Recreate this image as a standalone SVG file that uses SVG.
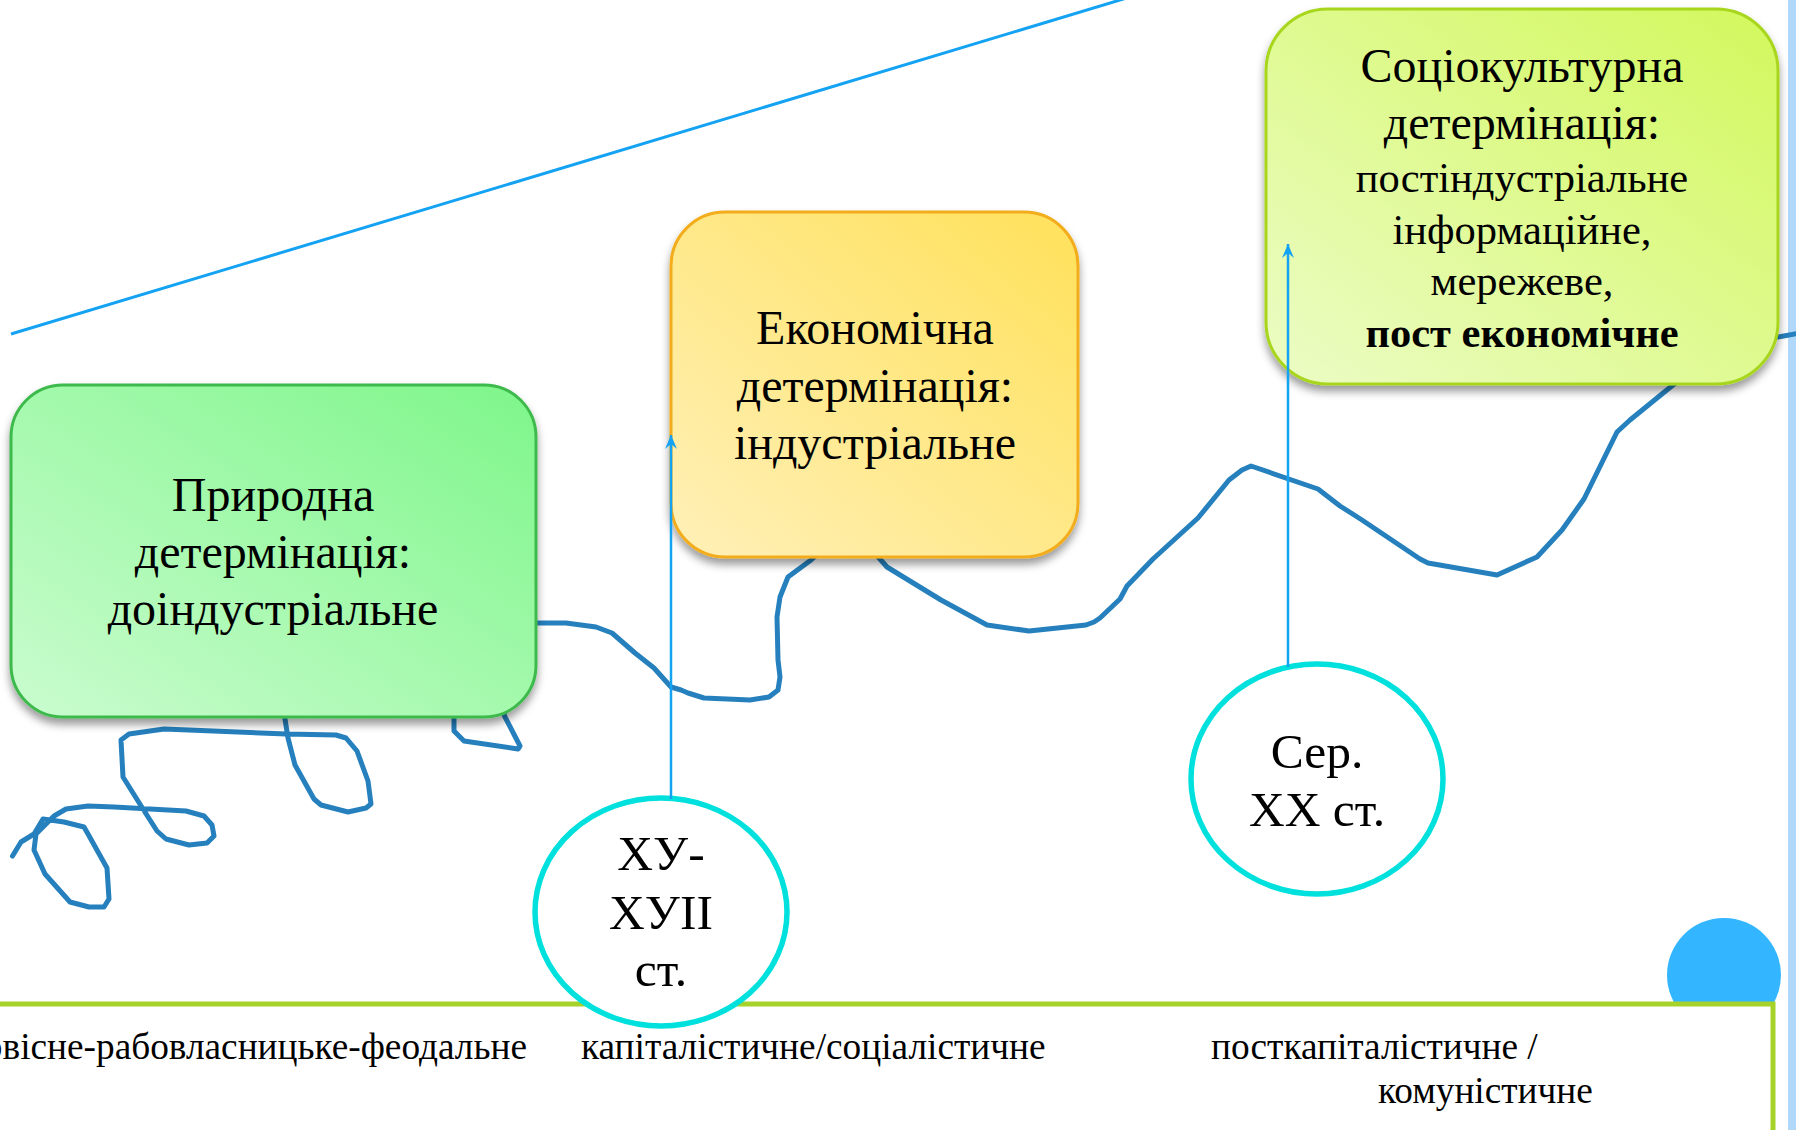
<svg xmlns="http://www.w3.org/2000/svg" width="1796" height="1130" viewBox="0 0 1796 1130">
<defs>
<linearGradient id="gGreen" x1="0" y1="1" x2="1" y2="0">
<stop offset="0" stop-color="#cafccf"/><stop offset="1" stop-color="#7ef68a"/>
</linearGradient>
<linearGradient id="gYellow" x1="0" y1="1" x2="1" y2="0">
<stop offset="0" stop-color="#fff0b8"/><stop offset="1" stop-color="#ffe15a"/>
</linearGradient>
<linearGradient id="gLime" x1="0" y1="1" x2="1" y2="0">
<stop offset="0" stop-color="#ecfcc6"/><stop offset="1" stop-color="#d2f85c"/>
</linearGradient>
<filter id="shadow" x="-10%" y="-10%" width="120%" height="125%">
<feDropShadow dx="0" dy="6" stdDeviation="4" flood-color="#000" flood-opacity="0.4"/>
</filter>
<marker id="arr" viewBox="-14 -7 16 14" markerWidth="16" markerHeight="14" refX="0" refY="0" orient="auto" markerUnits="userSpaceOnUse">
<path d="M0,0 L-14,-6 L-9,0 L-14,6 Z" fill="#14a2f2"/>
</marker>
</defs>
<style>
text{font-family:'Liberation Serif','Times New Roman',serif}
.t{fill:#000;text-anchor:middle}
.big{font-size:48px}
.mid{font-size:42.5px}
.ov{font-size:49.5px}
.bot{font-size:37.3px;fill:#000}
.box{stroke-width:3;filter:url(#shadow)}
.ell{fill:#fff;stroke:#00e0dd;stroke-width:5.5}
.thin{fill:none;stroke:#14a2f2;stroke-width:2.5}
</style>
<rect width="1796" height="1130" fill="#fff"/>
<g id="decor">
<rect x="1788" y="0" width="8" height="1130" fill="#b0d8fb"/>
<circle cx="1724" cy="975" r="57" fill="#33b5ff"/>
<rect x="-20" y="1004" width="1793" height="150" fill="#fff" stroke="#a6d22a" stroke-width="5"/>
<text class="bot" x="527" y="1059" text-anchor="end">первісне-рабовласницьке-феодальне</text>
<text class="bot" x="581" y="1059">капіталістичне/соціалістичне</text>
<text class="bot" x="1211" y="1059">посткапіталістичне /</text>
<text class="bot" x="1378" y="1103">комуністичне</text>
</g>
<g id="trend" fill="none" stroke="#2580bd" stroke-width="5" stroke-linejoin="round" stroke-linecap="round">
<path d="M12.5,856 L21,842 L34,834 L43,819 L64,822 L84,827 L88,834 L107,868 L109,899 L104,907 L89,907 L70,902 L45,874 L34,850 L36,834 L54,816 L66,809 L88,806 L114,807 L186,811 L204,816 L212,825 L214,836 L207,843 L189,845 L166,839 L157,831 L143,809 L123,777 L121,740 L129,734 L164,729 L286,734 L336,735 L346,738 L357,751 L368,781 L371,804 L366,808 L348,812 L321,805 L314,799 L295,765 L288,738 L282,700 L454,700 L454,731 L464,741 L518,749 L520,746 L504,715 L520,640 L536,623 L566,623 L596,627 L612,633 L635,653 L654,668 L671,687 L681,690 L688,693 L704,698 L750,700 L769,697 L778,690 L780,677 L778,660 L777,617 L780,597 L788,577 L811,560 L822,550 L872,550 L887,567 L941,600 L987,625 L1029,631 L1086,625 L1094,622 L1100,618 L1120,599 L1127,586 L1153,559 L1198,518 L1229,480 L1242,470 L1251,466 L1318,489 L1340,506 L1362,520 L1420,559 L1428,563 L1497,575 L1537,557 L1562,530 L1584,499 L1617,432 L1630,420 L1673,385 L1740,340 L1778,337 L1800,333"/>
</g>
<g id="diagonal">
<line x1="11" y1="334" x2="1130" y2="-3" stroke="#14a2f2" stroke-width="3"/>
</g>
<g id="node-natural">
<rect class="box" x="11" y="385" width="525" height="332" rx="52" fill="url(#gGreen)" stroke="#3dba4b"/>
<text class="t big" x="273" y="511">Природна</text>
<text class="t big" x="273" y="568">детермінація:</text>
<text class="t big" x="273" y="625">доіндустріальне</text>
</g>
<g id="node-economic">
<rect class="box" x="671" y="212" width="407" height="345" rx="54" fill="url(#gYellow)" stroke="#f2ac1c"/>
<text class="t big" x="875" y="344">Економічна</text>
<text class="t big" x="875" y="402">детермінація:</text>
<text class="t big" x="875" y="459">індустріальне</text>
</g>
<g id="node-sociocultural">
<rect class="box" x="1266" y="9" width="512" height="375" rx="62" fill="url(#gLime)" stroke="#a8d61e"/>
<text class="t big" x="1522" y="82">Соціокультурна</text>
<text class="t big" x="1522" y="139">детермінація:</text>
<text class="t mid" x="1522" y="192">постіндустріальне</text>
<text class="t mid" x="1522" y="244">інформаційне,</text>
<text class="t mid" x="1522" y="295">мережеве,</text>
<text class="t mid" x="1522" y="347" font-weight="bold">пост економічне</text>
</g>
<g id="node-15-17">
<ellipse class="ell" cx="661" cy="912" rx="126" ry="114"/>
<text class="t ov" x="661" y="870">ХУ-</text>
<text class="t ov" x="661" y="929">ХУII</text>
<text class="t ov" x="661" y="986">ст.</text>
</g>
<g id="node-mid20">
<ellipse class="ell" cx="1317" cy="779" rx="126" ry="115"/>
<text class="t ov" x="1317" y="768">Сер.</text>
<text class="t ov" x="1317" y="826">ХХ ст.</text>
</g>
<g id="connectors">
<line class="thin" x1="671" y1="799" x2="671" y2="435" marker-end="url(#arr)"/>
<line class="thin" x1="1288" y1="667" x2="1288" y2="244" marker-end="url(#arr)"/>
</g>
</svg>
